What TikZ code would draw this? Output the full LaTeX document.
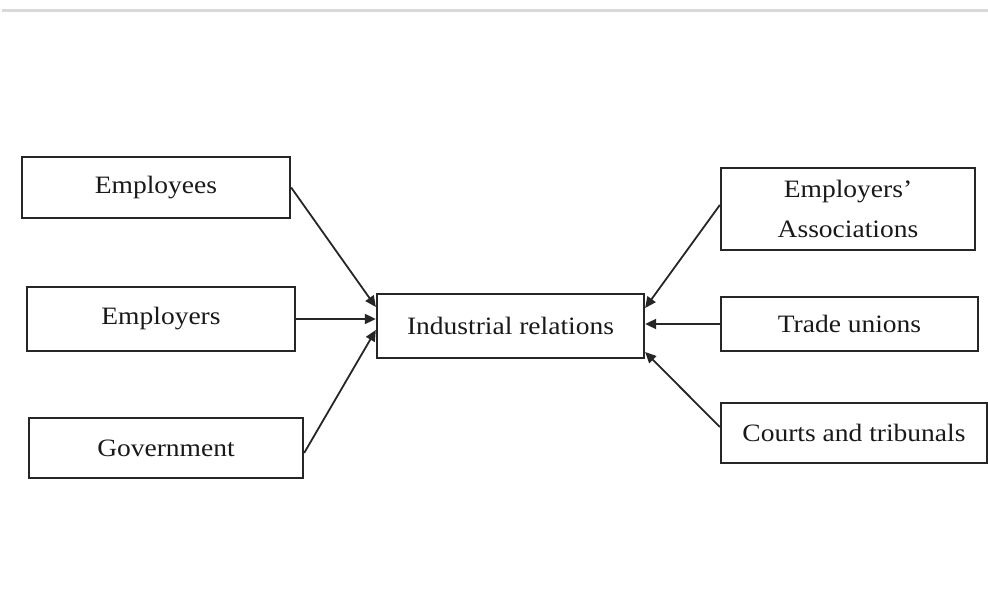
\documentclass[tikz,border=0pt]{standalone}
\usepackage{fontspec}
\setmainfont[FakeStretch=1.1]{Liberation Serif}
\usetikzlibrary{arrows.meta}
\begin{document}
\begin{tikzpicture}[x=1pt,y=-1pt,
 box/.style={draw=black!85, line width=2.3pt, rectangle, inner sep=0pt, text=black!90, font=\fontsize{25}{40}\selectfont, align=center},
 conn/.style={draw=black!85, line width=1.8pt, -{Triangle[length=11pt,width=10pt]}}]
\useasboundingbox (0,0) rectangle (988,593);
\draw[black!15, line width=3pt] (2,11) -- (988,11);
\node[box, minimum width=268pt, minimum height=61pt] (emps) at (156,187.5) {Employees};
\node[box, minimum width=268pt, minimum height=64pt] (empr) at (161,319) {Employers};
\node[box, minimum width=274pt, minimum height=60pt] (gov) at (166,448) {Government};
\node[box, minimum width=267pt, minimum height=64pt] (ir) at (510.5,326) {Industrial relations};
\node[box, minimum width=254pt, minimum height=82pt] (ea) at (848,209) {Employers’\\Associations};
\node[box, minimum width=257pt, minimum height=54pt] (tu) at (849.5,324) {Trade unions};
\node[box, minimum width=266pt, minimum height=60pt] (ct) at (854,433) {Courts and tribunals};
\draw[conn] (emps.east) -- ([yshift=19pt]ir.west);
\draw[conn] (empr.east) -- (ir.west |- empr.east);
\draw[conn] ([yshift=-5pt]gov.east) -- ([yshift=-4pt]ir.west);
\draw[conn] ([yshift=4pt]ea.west) -- ([yshift=18pt]ir.east);
\draw[conn] (tu.west) -- (ir.east |- tu.west);
\draw[conn] ([yshift=6pt]ct.west) -- ([yshift=-26pt]ir.east);
\end{tikzpicture}
\end{document}
